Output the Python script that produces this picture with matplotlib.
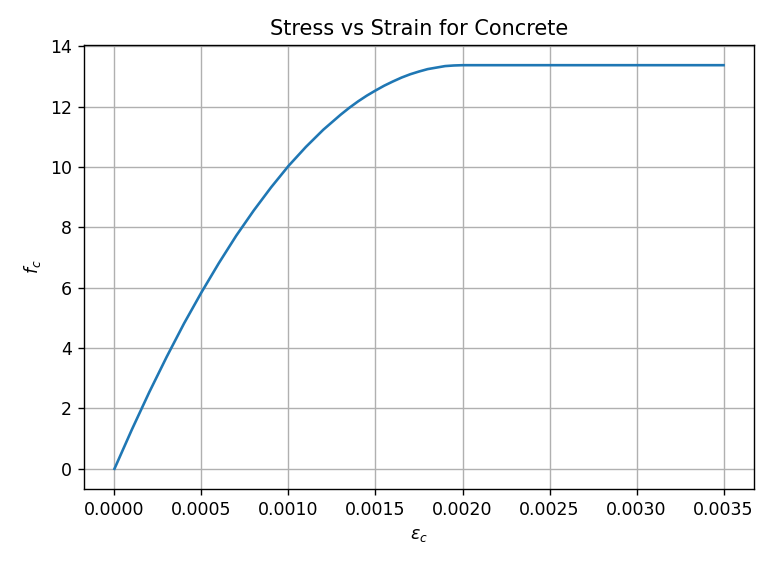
import matplotlib
matplotlib.use('Agg')
import matplotlib.pyplot as plt

# strain values and stress values
strain = [0.0, 0.0001, 0.0002, 0.0003, 0.0004, 0.0005, 0.0006, 0.0007,
          0.0008, 0.0009, 0.0010, 0.0011, 0.0012, 0.0013, 0.00135, 0.0014,
          0.00145, 0.0015, 0.00155, 0.0016, 0.00165, 0.0017, 0.00175, 0.0018,
          0.00185, 0.0019, 0.00195, 0.0020, 0.0025, 0.0030, 0.0035]
stress = [0.0, 1.30, 2.54, 3.71, 4.82, 5.85, 6.82, 7.73,
          8.56, 9.33, 10.04, 10.67, 11.24, 11.74, 11.97, 12.18,
          12.37, 12.54, 12.70, 12.84, 12.97, 13.08, 13.17, 13.25,
          13.30, 13.35, 13.37, 13.38, 13.38, 13.38, 13.38]

fig = plt.figure(figsize=(773 / 125, 563 / 125), dpi=125)
ax = fig.add_axes([84 / 773, 1 - 489 / 563, (754 - 84) / 773, (489 - 45) / 563])

ax.plot(strain, stress)
ax.set_title("Stress vs Strain for Concrete", fontsize=12)
ax.set_xlabel(r"$\epsilon_c$")
ax.set_ylabel(r"$f_c$")
ax.grid(True)

fig.savefig("out.png", dpi=125)
